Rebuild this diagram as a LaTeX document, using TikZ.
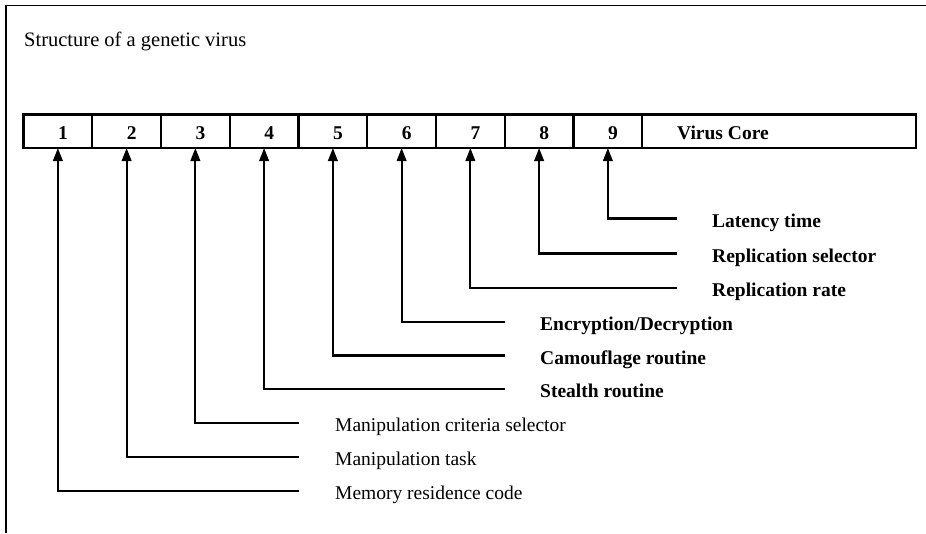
\documentclass[tikz,border=0pt]{standalone}
\usepackage{fontspec}
\setmainfont{Liberation Serif}
\usetikzlibrary{arrows.meta,calc}
\begin{document}
\begin{tikzpicture}[x=1pt,y=-1pt,
  frameline/.style={line width=1.4pt},
  cellbox/.style={draw,line width=2.4pt,rectangle,minimum height=33.5pt,inner sep=0pt,outer sep=0pt},
  cellnum/.style={font=\fontsize{19.5}{23}\selectfont\bfseries,anchor=base,inner sep=0pt},
  boldlabel/.style={font=\fontsize{19.5}{23}\selectfont\bfseries,anchor=base west,inner sep=0pt},
  plainlabel/.style={font=\fontsize{19.5}{23}\selectfont,anchor=base west,inner sep=0pt},
  pointer/.style={line width=2.2pt,-{Triangle[length=13pt,width=9.5pt]}}]
\useasboundingbox (0,0) rectangle (926,533);

% page frame: top and left rules only
\draw[frameline] (926,5.5) -- (6,5.5) -- (6,533);

\node[plainlabel,font=\fontsize{20.5}{24}\selectfont] (title) at (24,46) {Structure of a genetic virus};

% the nine numbered cells of the virus string
\foreach \k in {1,...,9}{
  \node[cellbox,minimum width=68.75pt] (c\k) at ({23.5+68.75*(\k-0.5)},131.25) {};
  \node[cellnum] (n\k) at ($(c\k.center)+(5,7.75)$) {\k};
}
% virus core cell
\node[cellbox,minimum width=273.75pt] (core) at (779.1,131.25) {};
\node[boldlabel] (coretext) at (677,139) {Virus Core};

% free ends of the pointer lines
\coordinate (e9) at (677,218.5);
\coordinate (e8) at (677,253.5);
\coordinate (e7) at (677,288);
\coordinate (e6) at (505,322);
\coordinate (e5) at (505,355.5);
\coordinate (e4) at (505,389);
\coordinate (e3) at (299,423);
\coordinate (e2) at (299,457);
\coordinate (e1) at (299,491);

\foreach \k in {1,...,9}{
  \draw[pointer] (e\k) -| (c\k.south);
}

% descriptions
\node[boldlabel] (t9) at ($(e9)+(35,8.5)$) {Latency time};
\node[boldlabel] (t8) at ($(e8)+(35,8.5)$) {Replication selector};
\node[boldlabel] (t7) at ($(e7)+(35,8.5)$) {Replication rate};
\node[boldlabel] (t6) at ($(e6)+(35,8.5)$) {Encryption/Decryption};
\node[boldlabel] (t5) at ($(e5)+(35,8.5)$) {Camouflage routine};
\node[boldlabel] (t4) at ($(e4)+(35,8.5)$) {Stealth routine};
\node[plainlabel] (t3) at ($(e3)+(36,8.5)$) {Manipulation criteria selector};
\node[plainlabel] (t2) at ($(e2)+(36,8.5)$) {Manipulation task};
\node[plainlabel] (t1) at ($(e1)+(36,8.5)$) {Memory residence code};
\end{tikzpicture}
\end{document}
